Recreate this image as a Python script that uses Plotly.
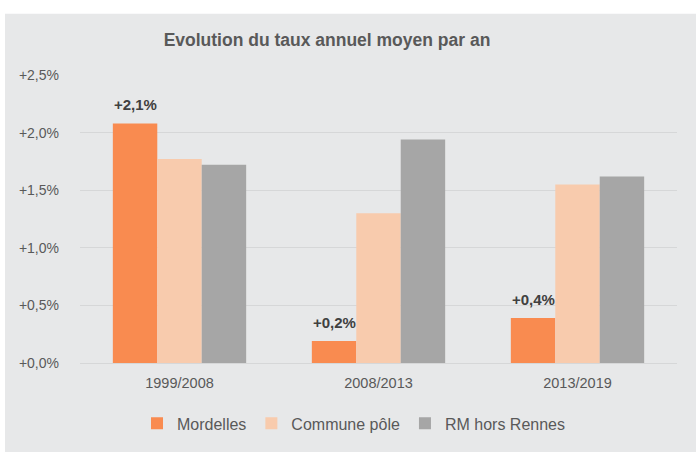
import plotly.graph_objects as go

categories = ["1999/2008", "2008/2013", "2013/2019"]
series_names = ["Mordelles", "Commune pôle", "RM hors Rennes"]
mordelles = [2.08, 0.19, 0.39]
commune_pole = [1.77, 1.30, 1.55]
rm_hors_rennes = [1.72, 1.94, 1.62]
label_texts = ["+2,1%", "+0,2%", "+0,4%"]
tick_vals = [0.0, 0.5, 1.0, 1.5, 2.0, 2.5]
tick_text = ["+0,0%", "+0,5%", "+1,0%", "+1,5%", "+2,0%", "+2,5%"]

colors = ["#F98B50", "#F8CBAD", "#A6A6A6"]
BG = "#E7E8E9"
FONT = "Liberation Sans, Arial"
W, H = 696, 452
ML, MR, MT, MB = 80, 19, 75, 86
pw = W - ML - MR
ph = H - MT - MB

fig = go.Figure()
for name, vals, col in zip(series_names, [mordelles, commune_pole, rm_hors_rennes], colors):
    fig.add_trace(go.Bar(x=categories, y=vals, name=name, marker_color=col,
                         marker_line_width=0, hoverinfo="skip"))

bar_w_px = pw / 3 * (1 - 0.33) / 3
for cat, v, t in zip(categories, mordelles, label_texts):
    fig.add_annotation(x=cat, y=v, text="<b>" + t + "</b>", showarrow=False,
                       xshift=-bar_w_px, yanchor="bottom", yshift=8,
                       font=dict(family=FONT, size=15, color="#404040"))

# white strips outside the grey panel
fig.add_shape(type="rect", xref="paper", yref="paper",
              x0=(0 - ML) / pw - 0.05, x1=(5 - ML) / pw, y0=-MB / ph - 0.1, y1=(H - MB) / ph + 0.1,
              fillcolor="white", line_width=0, layer="below")
fig.add_shape(type="rect", xref="paper", yref="paper",
              x0=-ML / pw - 0.1, x1=(W - ML) / pw + 0.1, y0=(H - MB - 13) / ph, y1=(H - MB) / ph + 0.1,
              fillcolor="white", line_width=0, layer="below")

fig.update_layout(
    width=W, height=H,
    margin=dict(l=ML, r=MR, t=MT, b=MB, pad=0),
    paper_bgcolor=BG, plot_bgcolor=BG,
    barmode="group", bargap=0.33, bargroupgap=0,
    title=dict(text="<b>Evolution du taux annuel moyen par an</b>", x=327 / W, xanchor="center",
               y=1 - 40 / H, yanchor="middle",
               font=dict(family=FONT, size=17.5, color="#595959")),
    showlegend=True,
    legend=dict(orientation="h", x=(354 - ML) / pw, xanchor="center", y=-(427 - (H - MB)) / ph,
                yanchor="middle", font=dict(family=FONT, size=16, color="#595959"),
                bgcolor="rgba(0,0,0,0)", itemwidth=30),
    font=dict(family=FONT, color="#595959"),
)
fig.update_yaxes(range=[0, 2.5], tickvals=tick_vals, ticktext=tick_text,
                 showgrid=True, gridcolor="#D6D7D8", gridwidth=1,
                 zeroline=True, zerolinecolor="#D6D7D8", zerolinewidth=1,
                 showline=False, ticks="", ticklabelstandoff=20,
                 tickfont=dict(family=FONT, size=14, color="#595959"))
fig.update_xaxes(showgrid=False, showline=False, ticks="", ticklabelstandoff=9,
                 tickfont=dict(family=FONT, size=14.5, color="#595959"))

fig.write_html("out.html", config={"displayModeBar": False},
               post_script="document.body.style.margin='0';document.body.style.overflow='hidden';")
